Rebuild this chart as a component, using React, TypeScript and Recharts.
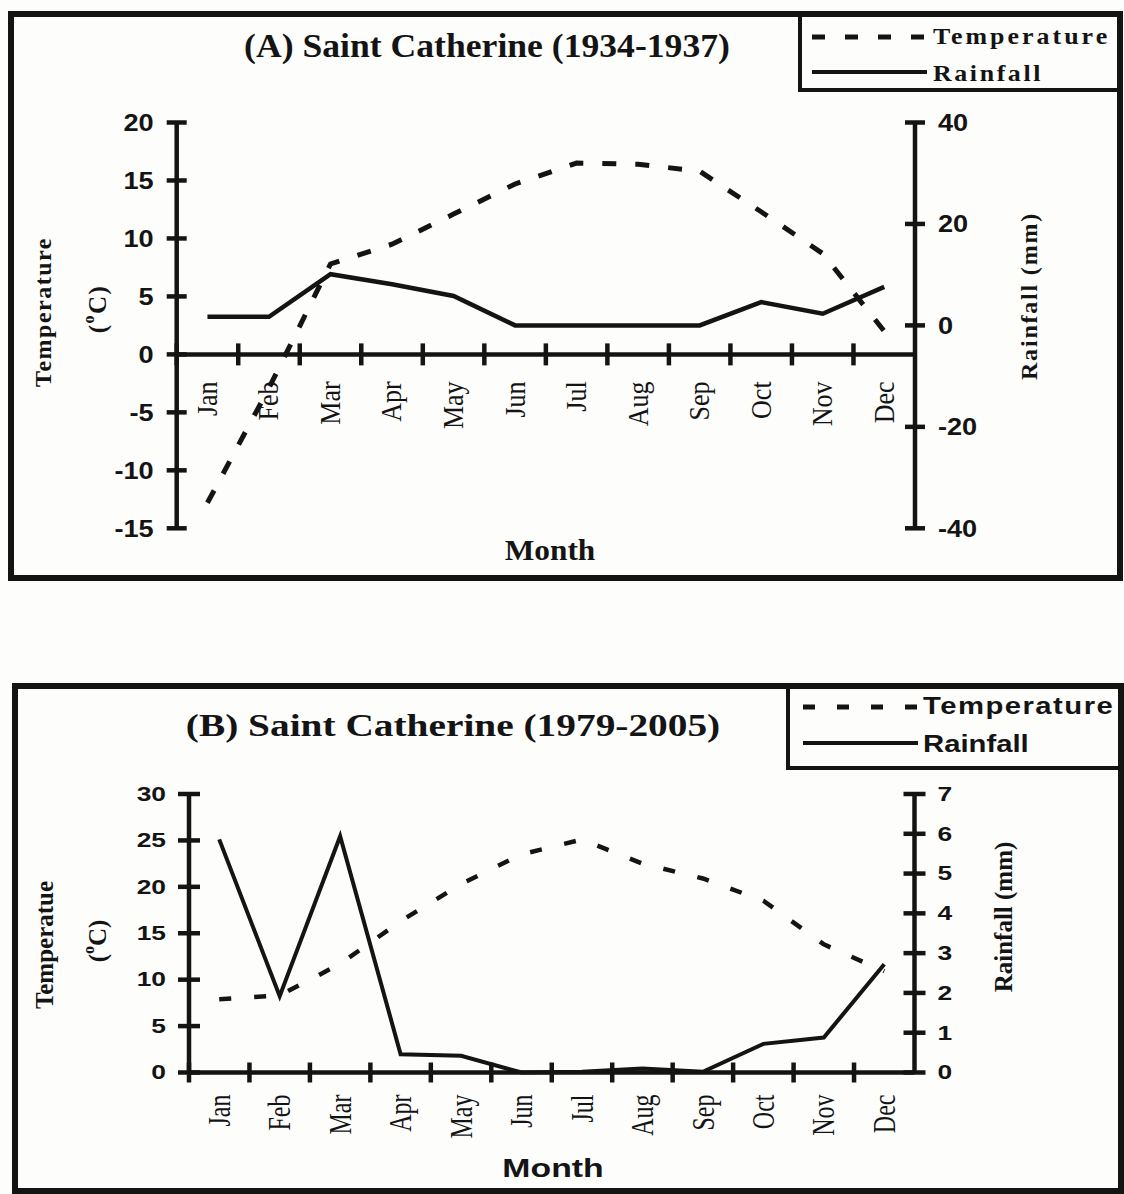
import React from 'react';
import { ComposedChart, Line, XAxis, YAxis, ReferenceLine } from 'recharts';

// ---------- data ----------
const months = ['Jan', 'Feb', 'Mar', 'Apr', 'May', 'Jun', 'Jul', 'Aug', 'Sep', 'Oct', 'Nov', 'Dec'];
const seriesNames = ['Temperature', 'Rainfall'];

// (A) Saint Catherine (1934-1937)
const tempA = [-12.8, -2.9, 7.8, 9.5, 12.1, 14.7, 16.5, 16.4, 15.8, 12.3, 8.7, 2.0];
const rainA = [1.7, 1.7, 10.1, 8.1, 5.8, 0, 0, 0, 0, 4.6, 2.3, 7.6];
const tempTicksA = [-15, -10, -5, 0, 5, 10, 15, 20];
const rainTicksA = [-40, -20, 0, 20, 40];

// (B) Saint Catherine (1979-2005)
const tempB = [7.9, 8.3, 11.7, 16.3, 20.3, 23.5, 25.1, 22.5, 20.9, 18.5, 13.8, 10.9];
const rainB = [5.86, 1.92, 5.94, 0.46, 0.42, 0, 0.02, 0.1, 0.02, 0.72, 0.88, 2.72];
const tempTicksB = [0, 5, 10, 15, 20, 25, 30];
const rainTicksB = [0, 1, 2, 3, 4, 5, 6, 7];

const dataA = months.map((m, i) => ({ month: m, temperature: tempA[i], rainfall: rainA[i] }));
const dataB = months.map((m, i) => ({ month: m, temperature: tempB[i], rainfall: rainB[i] }));

// ---------- style ----------
const SERIF = '"Liberation Serif", "Times New Roman", serif';
const SANS = '"Liberation Sans", Arial, sans-serif';
const INK = '#141414';
const W = 1124;
const AXW = 60;

function ST(props: any) {
  const { x, y, sx = 1, rot = 0, children, ...rest } = props;
  const tf = `translate(${x} ${y}) scale(${sx} 1)` + (rot ? ` rotate(${rot})` : '');
  return (
    <text transform={tf} x={0} y={0} fill={INK} {...rest}>
      {children}
    </text>
  );
}

const makeYTick = (side: 'left' | 'right', cfg: any) => (props: any) => {
  const { x, y, payload } = props;
  const d = side === 'left' ? -1 : 1;
  return (
    <g>
      <line x1={x - cfg.tick} x2={x + cfg.tick} y1={y} y2={y} stroke={INK} strokeWidth={cfg.sw} />
      <ST
        x={x + d * cfg.gap}
        y={y}
        sx={cfg.sx}
        textAnchor={side === 'left' ? 'end' : 'start'}
        dominantBaseline="central"
        fontFamily={SANS}
        fontWeight="bold"
        fontSize={cfg.fs}
      >
        {payload.value}
      </ST>
    </g>
  );
};

const makeCategoryAxis = (cfg: any) => (props: any) => {
  const { x1, x2, y1 } = props;
  const n = months.length;
  const bw = (x2 - x1) / n;
  return (
    <g>
      <line x1={x1} x2={x2} y1={y1} y2={y1} stroke={INK} strokeWidth={cfg.sw} />
      {months.map((_, i) => (
        <line
          key={'t' + i}
          x1={x1 + bw * i}
          x2={x1 + bw * i}
          y1={y1 - cfg.tick}
          y2={y1 + cfg.tick}
          stroke={INK}
          strokeWidth={cfg.sw}
        />
      ))}
      {months.map((m, i) => (
        <ST
          key={'l' + i}
          x={x1 + bw * (i + 0.5)}
          y={y1 + cfg.gap}
          sx={cfg.sx}
          rot={-90}
          textAnchor="end"
          dominantBaseline="central"
          fontFamily={SERIF}
          fontSize={cfg.fs}
        >
          {m}
        </ST>
      ))}
    </g>
  );
};

function Panel(p: any) {
  const yCfg = p.yCfg;
  return (
    <div style={{ position: 'absolute', left: 0, top: p.top, width: W, height: p.height }}>
      <ComposedChart
        width={W}
        height={p.height}
        data={p.data}
        margin={{
          top: p.plotTop,
          bottom: p.height - p.plotBottom,
          left: p.plotLeft - AXW,
          right: W - p.plotRight - AXW,
        }}
      >
        <XAxis dataKey="month" type="category" scale="band" hide height={0} />
        <YAxis
          yAxisId="left"
          orientation="left"
          type="number"
          width={AXW}
          domain={p.leftDomain}
          ticks={p.leftTicks}
          interval={0}
          tickSize={0}
          tickMargin={0}
          tickLine={false}
          axisLine={{ stroke: INK, strokeWidth: yCfg.sw }}
          tick={makeYTick('left', yCfg)}
        />
        <YAxis
          yAxisId="right"
          orientation="right"
          type="number"
          width={AXW}
          domain={p.rightDomain}
          ticks={p.rightTicks}
          interval={0}
          tickSize={0}
          tickMargin={0}
          tickLine={false}
          axisLine={{ stroke: INK, strokeWidth: yCfg.sw }}
          tick={makeYTick('right', yCfg)}
        />
        <ReferenceLine yAxisId="left" y={0} shape={makeCategoryAxis(p.xCfg)} />
        <Line
          yAxisId="left"
          dataKey="temperature"
          name={seriesNames[0]}
          type="linear"
          stroke={INK}
          strokeWidth={p.tempWidth}
          strokeDasharray={p.dash}
          dot={false}
          isAnimationActive={false}
        />
        <Line
          yAxisId="right"
          dataKey="rainfall"
          name={seriesNames[1]}
          type="linear"
          stroke={INK}
          strokeWidth={p.rainWidth}
          dot={false}
          isAnimationActive={false}
        />
      </ComposedChart>
    </div>
  );
}

function Legend(p: any) {
  return (
    <g>
      <rect x={p.x} y={p.y} width={p.w} height={p.h} fill="none" stroke={INK} strokeWidth={4} />
      <line x1={p.lx1} x2={p.lx2} y1={p.y1} y2={p.y1} stroke={INK} strokeWidth={p.dw} strokeDasharray={p.dash} />
      <line x1={p.lx1} x2={p.lx2} y1={p.y2} y2={p.y2} stroke={INK} strokeWidth={4} />
      <ST x={p.tx} y={p.b1} sx={p.sx} fontFamily={p.font} fontWeight="bold" fontSize={p.fs} letterSpacing={p.ls1}>
        {seriesNames[0]}
      </ST>
      <ST x={p.tx} y={p.b2} sx={p.sx} fontFamily={p.font} fontWeight="bold" fontSize={p.fs} letterSpacing={p.ls2}>
        {seriesNames[1]}
      </ST>
    </g>
  );
}

export default function App() {
  return (
    <div style={{ position: 'absolute', left: 0, top: 0, width: W, height: 1194, background: '#fdfdfc', overflow: 'hidden' }}>
      <Panel
        top={0}
        height={600}
        data={dataA}
        plotTop={122.5}
        plotBottom={528.3}
        plotLeft={176.7}
        plotRight={915}
        leftDomain={[-15, 20]}
        leftTicks={tempTicksA}
        rightDomain={[-40, 40]}
        rightTicks={rainTicksA}
        yCfg={{ tick: 10, gap: 23, sw: 4.5, fs: 23, sx: 1.18 }}
        xCfg={{ tick: 11, gap: 27, sw: 4.5, fs: 26, sx: 1.1 }}
        tempWidth={5}
        rainWidth={4.5}
        dash="14 19"
      />
      <Panel
        top={600}
        height={594}
        data={dataB}
        plotTop={194}
        plotBottom={472.5}
        plotLeft={189}
        plotRight={914.5}
        leftDomain={[0, 30]}
        leftTicks={tempTicksB}
        rightDomain={[0, 7]}
        rightTicks={rainTicksB}
        yCfg={{ tick: 11, gap: 23, sw: 4.5, fs: 20, sx: 1.32 }}
        xCfg={{ tick: 10, gap: 22, sw: 4.5, fs: 24, sx: 1.3 }}
        tempWidth={4.5}
        rainWidth={4}
        dash="12 23"
      />
      <svg
        width={W}
        height={1194}
        style={{ position: 'absolute', left: 0, top: 0, pointerEvents: 'none' }}
      >
        {/* Panel A frame */}
        <rect x={11} y={14} width={1109} height={564} fill="none" stroke={INK} strokeWidth={6} />
        <Legend
          x={800} y={14} w={320} h={76}
          lx1={812} lx2={927} y1={37} y2={72} dw={5} dash="13 20"
          tx={933} b1={44} b2={81} sx={1.08} font={SERIF} fs={24} ls1={2.8} ls2={2.4}
        />
        <ST x={487} y={57} sx={1.08} textAnchor="middle" fontFamily={SERIF} fontWeight="bold" fontSize={33}>
          (A) Saint Catherine (1934-1937)
        </ST>
        <ST x={43} y={312} rot={-90} textAnchor="middle" dominantBaseline="central" fontFamily={SERIF} fontWeight="bold" fontSize={24} letterSpacing={1.5}>
          Temperature
        </ST>
        <ST x={97} y={309} rot={-90} textAnchor="middle" dominantBaseline="central" fontFamily={SERIF} fontWeight="bold" fontSize={25} letterSpacing={1.5}>
          (<tspan dy={-9} fontSize={16}>o</tspan><tspan dy={9}>C)</tspan>
        </ST>
        <ST x={1029} y={296} rot={-90} textAnchor="middle" dominantBaseline="central" fontFamily={SERIF} fontWeight="bold" fontSize={24} letterSpacing={1.8}>
          Rainfall (mm)
        </ST>
        <ST x={550} y={560} sx={1.08} textAnchor="middle" fontFamily={SERIF} fontWeight="bold" fontSize={29}>
          Month
        </ST>

        {/* Panel B frame */}
        <rect x={15} y={686} width={1106} height={505} fill="none" stroke={INK} strokeWidth={6} />
        <Legend
          x={788} y={686} w={333} h={82}
          lx1={803} lx2={918} y1={707} y2={743} dw={5} dash="12 22"
          tx={923} b1={714} b2={752} sx={1.22} font={SANS} fs={24} ls1={1.2} ls2={0}
        />
        <ST x={453} y={736} sx={1.23} textAnchor="middle" fontFamily={SERIF} fontWeight="bold" fontSize={32}>
          (B) Saint Catherine (1979-2005)
        </ST>
        <ST x={44} y={945} rot={-90} textAnchor="middle" dominantBaseline="central" fontFamily={SERIF} fontWeight="bold" fontSize={25}>
          Temperatue
        </ST>
        <ST x={97} y={941} rot={-90} textAnchor="middle" dominantBaseline="central" fontFamily={SERIF} fontWeight="bold" fontSize={25}>
          (<tspan dy={-9} fontSize={16}>o</tspan><tspan dy={9}>C)</tspan>
        </ST>
        <ST x={1003} y={917} rot={-90} textAnchor="middle" dominantBaseline="central" fontFamily={SERIF} fontWeight="bold" fontSize={25}>
          Rainfall (mm)
        </ST>
        <ST x={553} y={1177} sx={1.3} textAnchor="middle" fontFamily={SANS} fontWeight="bold" fontSize={26}>
          Month
        </ST>
      </svg>
    </div>
  );
}
